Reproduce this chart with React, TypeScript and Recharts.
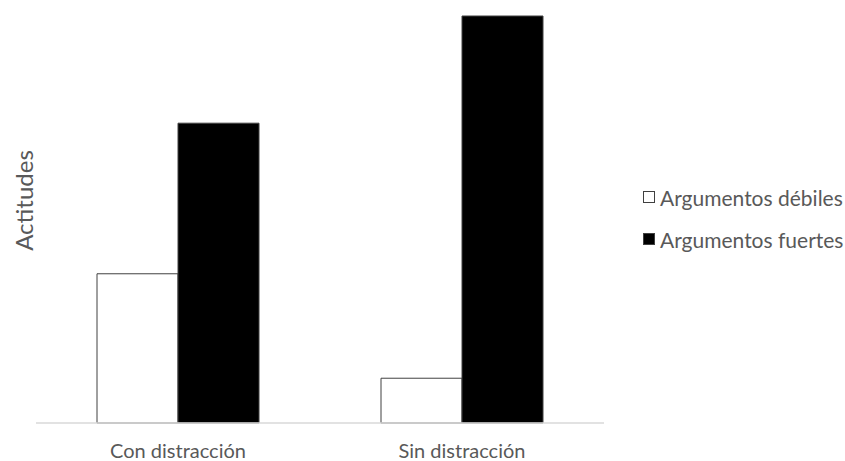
import { BarChart, Bar, XAxis, YAxis, Legend } from "recharts"

// Attitude scores by condition (no numeric scale shown on the chart)
const conditions = ["Con distracción", "Sin distracción"]
const weakArgs = [2.2, 0.66]
const strongArgs = [4.42, 6.0]

const data = conditions.map((c, i) => ({
  condition: c,
  weak: weakArgs[i],
  strong: strongArgs[i],
}))

const textColor = "#595959"
const font = "Lato, 'Open Sans', sans-serif"

const renderLegend = (props: any) => {
  const { payload } = props
  return (
    <div style={{ fontFamily: font, fontSize: 21, color: textColor }}>
      {payload.map((entry: any) => (
        <div key={entry.value} style={{ display: "flex", alignItems: "center", height: 42 }}>
          <span
            style={{
              display: "inline-block",
              width: 10,
              height: 10,
              marginRight: 5,
              background: entry.payload.fill,
              border: "1px solid #404040",
            }}
          />
          {entry.value}
        </div>
      ))}
    </div>
  )
}

const renderYLabel = (props: any) => {
  const { viewBox } = props
  const x = viewBox.x + 23
  const y = viewBox.y + viewBox.height / 2 - 19
  return (
    <text
      x={x}
      y={y}
      transform={`rotate(-90, ${x}, ${y})`}
      textAnchor="middle"
      dominantBaseline="central"
      fill={textColor}
      fontFamily={font}
      fontSize={24}
    >
      Actitudes
    </text>
  )
}

export default function App() {
  return (
    <div style={{ position: "fixed", left: 0, top: 0, background: "#fff" }}>
      <BarChart
        width={845}
        height={461}
        data={data}
        margin={{ top: 16, right: 241, left: 0, bottom: 8 }}
        barGap={0}
      >
        <XAxis
          dataKey="condition"
          axisLine={{ stroke: "#d9d9d9", strokeWidth: 1.5 }}
          tickLine={false}
          tick={{ fill: textColor, fontSize: 20, fontFamily: font }}
          tickMargin={15}
          height={30}
        />
        <YAxis
          width={36}
          domain={[0, 6]}
          tick={false}
          axisLine={false}
          tickLine={false}
          label={{ content: renderYLabel }}
        />
        <Legend
          layout="vertical"
          align="center"
          verticalAlign="middle"
          wrapperStyle={{ left: 643, top: 176, width: 202 }}
          content={renderLegend}
        />
        <Bar
          dataKey="weak"
          name="Argumentos débiles"
          fill="#ffffff"
          stroke="#404040"
          strokeWidth={1}
          barSize={81}
          isAnimationActive={false}
        />
        <Bar
          dataKey="strong"
          name="Argumentos fuertes"
          fill="#000000"
          stroke="#404040"
          strokeWidth={1}
          barSize={81}
          isAnimationActive={false}
        />
      </BarChart>
    </div>
  )
}
